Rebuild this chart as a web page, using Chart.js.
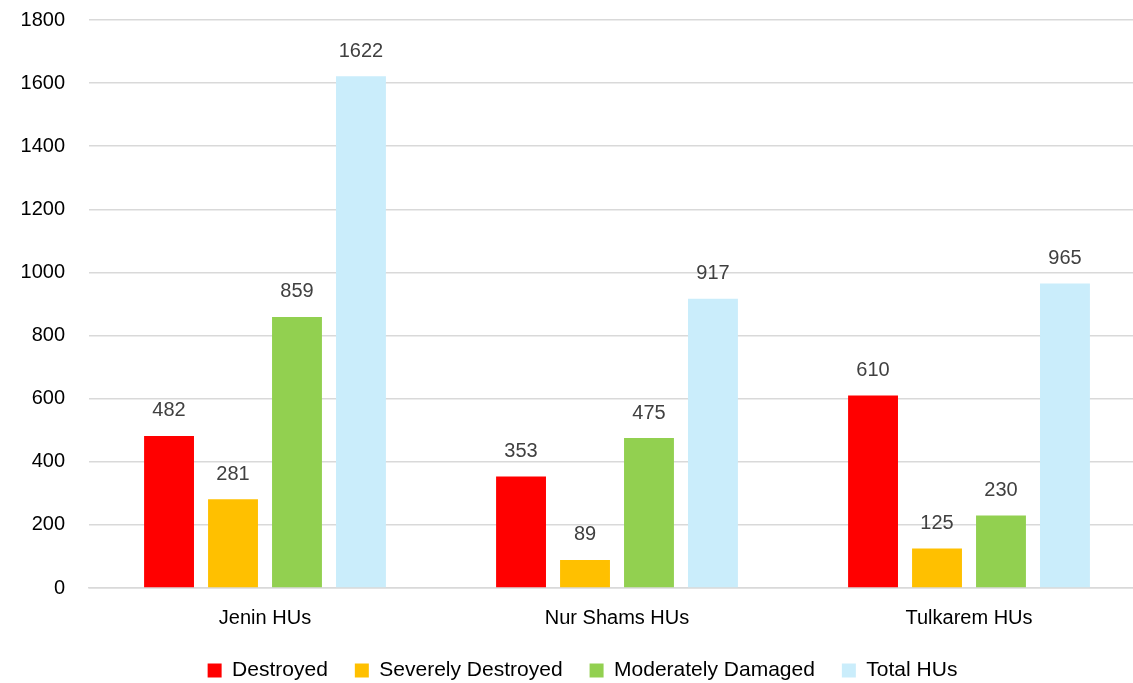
<!DOCTYPE html>
<html>
<head>
<meta charset="utf-8">
<script src="https://cdn.jsdelivr.net/npm/chart.js@4"></script>
<style>
  html, body { margin: 0; padding: 0; background: #fff; overflow: hidden; }
  #wrap { width: 1133px; height: 683px; position: relative; overflow: hidden; }
</style>
</head>
<body>
<!-- the original plot runs a little past the right edge of the picture -->
<div id="wrap"><canvas id="chart" width="1145" height="683"></canvas></div>
<script>
// categories and series
const categories = ['Jenin HUs', 'Nur Shams HUs', 'Tulkarem HUs'];
const destroyed = [482, 353, 610];
const severelyDestroyed = [281, 89, 125];
const moderatelyDamaged = [859, 475, 230];
const totalHUs = [1622, 917, 965];
const yTicks = [0, 200, 400, 600, 800, 1000, 1200, 1400, 1600, 1800];

// draws the value above each bar
const valueLabels = {
    id: 'valueLabels',
    afterDatasetsDraw(chart) {
        const ctx = chart.ctx;
        ctx.save();
        ctx.font = '20px "Liberation Sans", Arial, sans-serif';
        ctx.fillStyle = '#404040';
        ctx.textAlign = 'center';
        ctx.textBaseline = 'bottom';
        chart.data.datasets.forEach((ds, i) => {
            chart.getDatasetMeta(i).data.forEach((bar, j) => {
                ctx.fillText(ds.data[j], bar.x, bar.y - 15);
            });
        });
        ctx.restore();
    }
};

// trims the legend box so it sits lower, like the original
const legendFit = {
    id: 'legendFit',
    beforeInit(chart) {
        const legend = chart.legend;
        const fit = legend.fit;
        legend.fit = function () {
            fit.call(this);
            this.height -= 8;
        };
    }
};

const ctx = document.getElementById('chart').getContext('2d');
new Chart(ctx, {
    type: 'bar',
    data: {
        labels: categories,
        datasets: [
            { label: 'Destroyed', data: destroyed, backgroundColor: '#ff0000' },
            { label: 'Severely Destroyed', data: severelyDestroyed, backgroundColor: '#ffc000' },
            { label: 'Moderately Damaged', data: moderatelyDamaged, backgroundColor: '#92d050' },
            { label: 'Total HUs', data: totalHUs, backgroundColor: '#caedfb' }
        ]
    },
    options: {
        responsive: false,
        animation: false,
        layout: { padding: { top: 20, right: 0, left: 20, bottom: 0 } },
        datasets: {
            bar: { categoryPercentage: 0.727, barPercentage: 0.78 }
        },
        scales: {
            x: {
                grid: { display: false },
                border: { color: '#d9d9d9', width: 1.5 },
                afterFit: axis => { axis.height -= 7; },
                ticks: {
                    color: '#000',
                    padding: 10,
                    font: { family: '"Liberation Sans", Arial', size: 20 }
                }
            },
            y: {
                min: 0,
                max: 1800,
                afterBuildTicks: axis => { axis.ticks = yTicks.map(v => ({ value: v })); },
                afterFit: axis => {
                    axis.width = 69;
                    axis.paddingTop = 0;
                    axis.paddingBottom = 0;
                },
                grid: { color: '#d9d9d9', lineWidth: 1.5, drawTicks: false },
                border: { display: false },
                ticks: {
                    color: '#000',
                    padding: 24,
                    callback: v => String(v),
                    font: { family: '"Liberation Sans", Arial', size: 20 }
                }
            }
        },
        plugins: {
            legend: {
                position: 'bottom',
                labels: {
                    color: '#000',
                    boxWidth: 14,
                    boxHeight: 14,
                    padding: 27,
                    font: { family: '"Liberation Sans", Arial', size: 21 }
                }
            },
            tooltip: { enabled: false }
        }
    },
    plugins: [valueLabels, legendFit]
});
</script>
</body>
</html>
